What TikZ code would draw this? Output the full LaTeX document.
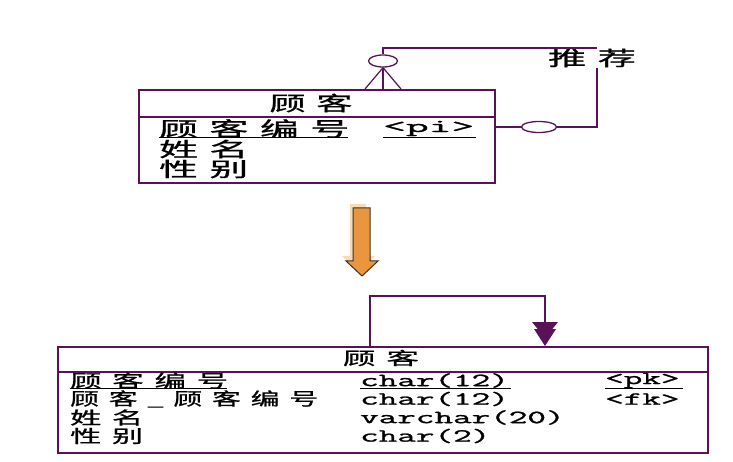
\documentclass[tikz,border=0pt]{standalone}
\usepackage{fontspec}
\usepackage{graphicx}
\newfontfamily\cjk{Noto Sans CJK SC}[FakeBold=0.8]
\newfontfamily\ttb{Latin Modern Mono}[FakeBold=1.2]
\usetikzlibrary{shapes.geometric}
\definecolor{erline}{RGB}{88,18,88}
\definecolor{arrfill}{RGB}{233,150,62}
\definecolor{arrshadow}{RGB}{250,218,176}
\def\cjkgap{0pt}
\def\spaced#1{\spacedA#1\relax}
\def\spacedA#1{#1\spacedB}
\def\spacedB#1{\ifx#1\relax\else\kern\cjkgap#1\expandafter\spacedB\fi}
% CJK text stretched to a given width
\newcommand\tc[2]{\resizebox{#1}{\height}{\cjk\fontsize{20}{20}\selectfont\def\cjkgap{6pt}\spaced{#2}}}
\newcommand\bc[2]{\resizebox{#1}{\height}{\cjk\fontsize{17.5}{17.5}\selectfont\def\cjkgap{6pt}\spaced{#2}}}
\newcommand\toptt[1]{\scalebox{2.39}[1]{\ttb\fontsize{18.5}{18.5}\selectfont #1}}
\newcommand\bottt[1]{\scalebox{1.95}[1]{\ttb\fontsize{18.5}{18.5}\selectfont #1}}
\tikzset{
  er/.style={draw=erline, line width=1.6pt},
  conn/.style={draw=erline, line width=1.5pt},
  tablebox/.style={er, rectangle, anchor=north west, inner sep=0pt},
  cell/.style={anchor=west, inner sep=0pt, text=black},
  oval/.style={ellipse, draw=erline, line width=1.3pt, fill=white, inner sep=0pt},
  uline/.style={draw=black, line width=0.9pt},
}
\begin{document}
\begin{tikzpicture}[x=1pt,y=-1pt]
\useasboundingbox (0,0) rectangle (733,462);
% ---------- top entity ----------
\node[tablebox, minimum width=356pt, minimum height=93pt] (top) at (138,89) {};
\draw[er] (top.west |- 0,117) -- (top.east |- 0,117);
\node[inner sep=0pt] (toptitle) at (311,103) {\tc{83pt}{顾客}};
\node[cell] (t1) at (159,128.5) {\tc{190pt}{顾客编号}};
\node[cell] (t1b) at (383,128.5) {\toptt{<pi>}};
\node[cell] (t2) at (159,149) {\tc{89pt}{姓名}};
\node[cell] (t3) at (159,169) {\tc{89pt}{性别}};
\draw[uline] (159,137.5) -- (348,137.5);
\draw[uline] (383,137.5) -- (476,137.5);
% ---------- recursive relationship ----------
\node[oval, minimum width=29pt, minimum height=12pt] (o1) at (383,61) {};
\node[oval, minimum width=35pt, minimum height=11pt] (o2) at (539,127) {};
\node[inner sep=1pt] (rec) at (592,58) {\tc{88pt}{推荐}};
\coordinate (c1) at (597,48);
\coordinate (c2) at (597,68);
\coordinate (c3) at (597,127);
\draw[conn] (o1.north) |- (c1);
\draw[conn] (c2) -- (c3) -- (o2.east);
\draw[conn] (o2.west) -- (top.east |- o2.west);
\draw[conn] (o1.south) -- (o1.south |- top.north);
\draw[conn, line width=1.2pt] (o1.south) -- (365,89);
\draw[conn, line width=1.2pt] (o1.south) -- (401,89);
% ---------- orange arrow ----------
\fill[arrshadow] (350,204) -- (366,204) -- (366,256) -- (375,256) -- (358,272) -- (342,256) -- (350,256) -- cycle;
\draw[fill=arrfill, draw=black!80, line width=1pt] (353,208) -- (370,208) -- (370,261) -- (378,261) -- (362,276) -- (346,261) -- (353,261) -- cycle;
% ---------- bottom table ----------
\node[tablebox, minimum width=650pt, minimum height=106pt] (bot) at (57,346) {};
\draw[er] (bot.west |- 0,372) -- (bot.east |- 0,372);
\node[inner sep=0pt] (bottitle) at (381,358) {\bc{76pt}{顾客}};
\node[cell] (b1) at (70,380.5) {\bc{158pt}{顾客编号}};
\node[cell] (b1t) at (360,380.5) {\bottt{char(12)}};
\node[cell] (b1k) at (605,380.5) {\bottt{<pk>}};
\node[cell] (b2) at (70,399) {\bc{248pt}{顾客\_顾客编号}};
\node[cell] (b2t) at (360,399) {\bottt{char(12)}};
\node[cell] (b2k) at (605,399) {\bottt{<fk>}};
\node[cell] (b3) at (70,417.5) {\bc{73pt}{姓名}};
\node[cell] (b3t) at (360,417.5) {\bottt{varchar(20)}};
\node[cell] (b4) at (70,436) {\bc{73pt}{性别}};
\node[cell] (b4t) at (360,436) {\bottt{char(2)}};
\draw[uline] (70,388) -- (227,388);
\draw[uline] (360,388) -- (511,388);
\draw[uline] (605,388) -- (683,388);
% ---------- self reference ----------
\coordinate (s1) at (545,296);
\coordinate (s2) at (545,322);
\draw[conn] (bot.north -| 370,0) |- (s1) -- (s2);
\fill[erline] (532,322) -- (558,322) -- (545,338) -- cycle;
\fill[erline] (534,329) -- (556,329) -- (545,346) -- cycle;
\end{tikzpicture}
\end{document}
